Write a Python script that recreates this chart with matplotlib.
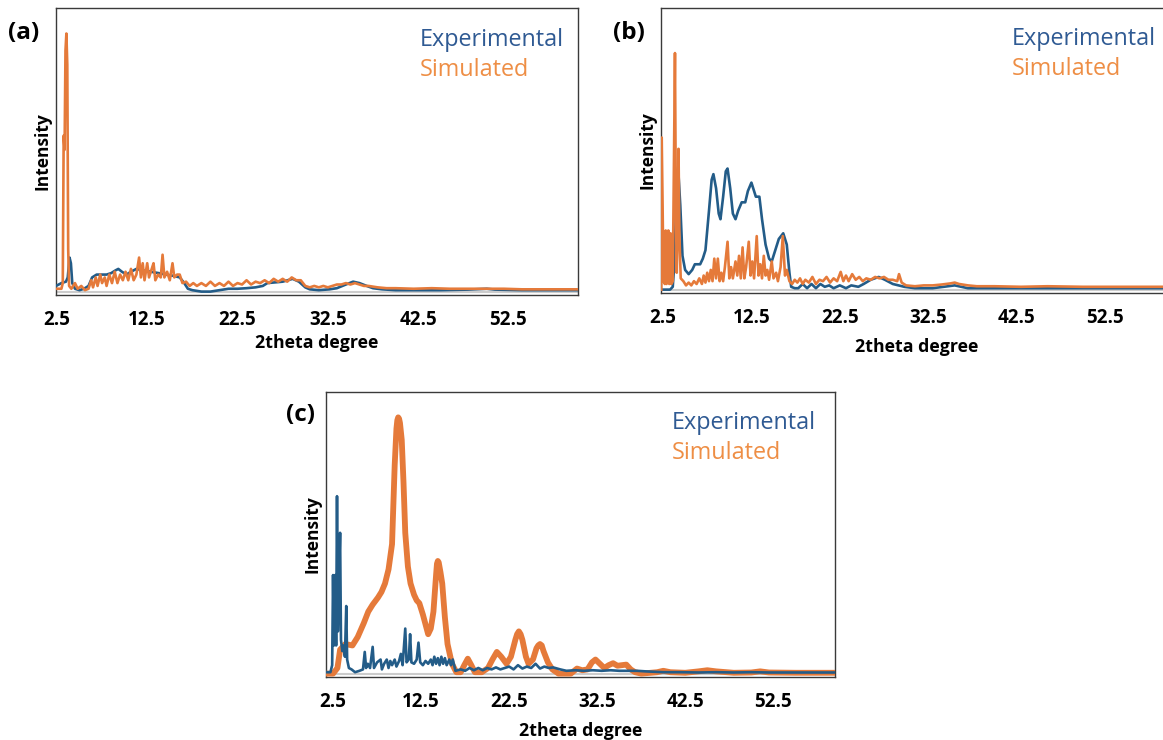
import numpy as np
import matplotlib
matplotlib.use("Agg")
import matplotlib.pyplot as plt

plt.rcParams['font.family'] = ['Open Sans', 'DejaVu Sans']

BLUE = '#235c88'
ORANGE = '#e57a3a'
TXT_BLUE = '#2f5a93'
TXT_ORANGE = '#ee8e45'

xticks = [2.5, 12.5, 22.5, 32.5, 42.5, 52.5]

# (2theta, relative intensity)
a_exp = [(2.4, 0.02), (3.0, 0.03), (3.5, 0.035), (3.7, 0.05), (3.9, 0.12), (4.05, 0.10), (4.2, 0.03),
         (4.5, 0.01), (5.0, 0.005), (5.5, 0.01), (6.0, 0.02), (6.4, 0.05), (6.9, 0.06), (7.5, 0.06),
         (8.0, 0.06), (8.5, 0.065), (9.0, 0.075), (9.3, 0.08), (9.7, 0.07), (10.2, 0.06), (10.7, 0.07),
         (11.3, 0.08), (12.0, 0.075), (12.9, 0.07), (13.8, 0.065), (14.6, 0.06), (15.5, 0.055),
         (16.1, 0.05), (16.6, 0.03), (17.0, 0.01), (17.5, 0.005), (18.5, 0.0), (19.5, 0.0),
         (20.5, 0.005), (21.5, 0.01), (22.5, 0.01), (23.5, 0.012), (24.5, 0.015), (25.3, 0.02),
         (25.8, 0.03), (26.5, 0.032), (27.5, 0.035), (28.6, 0.045), (29.3, 0.035), (30.0, 0.015),
         (30.5, 0.008), (31.5, 0.005), (32.7, 0.008), (33.5, 0.012), (34.5, 0.025), (35.3, 0.035),
         (36.0, 0.03), (36.8, 0.02), (37.5, 0.012), (38.5, 0.008), (40.0, 0.005), (42.0, 0.005),
         (45.0, 0.005), (48.0, 0.007), (50.1, 0.01), (51.0, 0.007), (54.0, 0.005), (57.0, 0.005),
         (60.2, 0.005)]

a_sim = [(2.5, 0.01), (3.0, 0.01), (3.15, 0.03), (3.25, 0.55), (3.35, 0.50), (3.45, 0.85),
         (3.55, 0.91), (3.65, 0.80), (3.75, 0.15), (3.85, 0.02), (4.1, 0.01), (4.5, 0.03), (4.8, 0.01),
         (5.2, 0.02), (5.6, 0.005), (6.0, 0.01), (6.3, 0.04), (6.5, 0.015), (6.8, 0.05), (7.0, 0.02),
         (7.3, 0.06), (7.5, 0.03), (7.8, 0.05), (8.0, 0.02), (8.3, 0.06), (8.6, 0.03), (8.9, 0.07),
         (9.2, 0.03), (9.5, 0.06), (9.8, 0.04), (10.1, 0.07), (10.4, 0.04), (10.7, 0.08), (11.0, 0.04),
         (11.3, 0.06), (11.6, 0.12), (11.8, 0.05), (12.0, 0.10), (12.2, 0.04), (12.5, 0.10),
         (12.7, 0.05), (13.0, 0.08), (13.2, 0.10), (13.4, 0.04), (13.7, 0.06), (14.0, 0.05),
         (14.2, 0.13), (14.4, 0.05), (14.7, 0.07), (15.0, 0.04), (15.3, 0.10), (15.5, 0.05),
         (15.8, 0.06), (16.1, 0.06), (16.4, 0.03), (16.8, 0.035), (17.2, 0.02), (17.6, 0.03),
         (18.0, 0.02), (18.5, 0.03), (19.0, 0.02), (19.5, 0.035), (20.0, 0.02), (20.5, 0.03),
         (21.0, 0.02), (21.5, 0.035), (22.0, 0.02), (22.5, 0.03), (23.0, 0.025), (23.5, 0.04),
         (24.0, 0.025), (24.5, 0.035), (25.0, 0.03), (25.5, 0.04), (26.0, 0.03), (26.5, 0.045),
         (27.0, 0.035), (27.5, 0.045), (28.0, 0.035), (28.5, 0.05), (29.0, 0.04), (29.5, 0.04),
         (30.0, 0.02), (30.5, 0.015), (31.0, 0.02), (31.5, 0.015), (32.0, 0.02), (32.5, 0.015),
         (33.0, 0.02), (33.5, 0.025), (34.0, 0.025), (34.5, 0.03), (35.0, 0.025), (35.5, 0.03),
         (36.0, 0.025), (36.5, 0.02), (37.0, 0.02), (38.0, 0.015), (39.0, 0.012), (40.0, 0.012),
         (42.0, 0.01), (44.0, 0.012), (46.0, 0.01), (48.0, 0.01), (50.0, 0.01), (52.0, 0.01),
         (54.0, 0.008), (56.0, 0.008), (58.0, 0.008), (60.2, 0.008)]

b_exp = [(2.3, 0.0), (3.3, 0.0), (3.6, 0.01), (3.8, 0.1), (4.0, 0.33), (4.25, 0.41), (4.45, 0.3),
         (4.7, 0.12), (5.0, 0.07), (5.4, 0.055), (5.8, 0.07), (6.1, 0.09), (6.7, 0.09), (7.0, 0.11),
         (7.3, 0.14), (7.7, 0.28), (8.0, 0.39), (8.2, 0.41), (8.5, 0.36), (8.8, 0.27), (9.0, 0.25),
         (9.3, 0.33), (9.6, 0.42), (9.8, 0.43), (10.1, 0.36), (10.4, 0.27), (10.7, 0.25), (11.0, 0.28),
         (11.4, 0.31), (11.8, 0.31), (12.1, 0.35), (12.5, 0.38), (12.8, 0.35), (13.0, 0.33),
         (13.4, 0.33), (13.7, 0.25), (14.1, 0.16), (14.5, 0.11), (14.8, 0.10), (15.2, 0.14),
         (15.6, 0.18), (16.1, 0.20), (16.5, 0.16), (16.8, 0.06), (17.0, 0.01), (17.4, 0.005),
         (17.8, 0.005), (18.3, 0.02), (18.8, 0.005), (19.3, 0.02), (19.8, 0.005), (20.3, 0.02),
         (20.8, 0.01), (21.3, 0.015), (21.8, 0.005), (22.5, 0.015), (23.2, 0.005), (23.8, 0.015),
         (24.6, 0.01), (25.2, 0.02), (26.0, 0.035), (26.9, 0.045), (27.6, 0.035), (28.5, 0.02),
         (29.8, 0.01), (31.0, 0.005), (33.0, 0.005), (35.5, 0.015), (37.0, 0.005), (40.0, 0.005),
         (45.0, 0.005), (50.0, 0.005), (55.0, 0.005), (60.5, 0.005)]

b_sim = [(2.3, 0.0), (2.35, 0.54), (2.45, 0.3), (2.55, 0.03), (2.7, 0.02), (2.8, 0.21), (2.9, 0.02),
         (3.0, 0.03), (3.1, 0.21), (3.2, 0.02), (3.35, 0.2), (3.45, 0.02), (3.6, 0.03), (3.75, 0.5),
         (3.85, 0.84), (3.95, 0.3), (4.05, 0.06), (4.15, 0.2), (4.25, 0.5), (4.35, 0.2), (4.5, 0.04),
         (4.8, 0.03), (5.1, 0.015), (5.4, 0.025), (5.7, 0.015), (6.0, 0.03), (6.3, 0.02), (6.6, 0.04),
         (6.9, 0.02), (7.1, 0.05), (7.3, 0.025), (7.5, 0.06), (7.7, 0.03), (7.9, 0.07), (8.1, 0.03),
         (8.3, 0.11), (8.5, 0.04), (8.7, 0.11), (8.9, 0.03), (9.1, 0.06), (9.3, 0.03), (9.5, 0.08),
         (9.8, 0.17), (10.0, 0.04), (10.2, 0.08), (10.4, 0.04), (10.7, 0.1), (10.9, 0.05),
         (11.1, 0.12), (11.3, 0.04), (11.5, 0.15), (11.7, 0.04), (11.9, 0.08), (12.2, 0.17),
         (12.4, 0.05), (12.6, 0.1), (12.8, 0.04), (13.1, 0.19), (13.3, 0.05), (13.5, 0.09),
         (13.7, 0.04), (13.9, 0.12), (14.1, 0.05), (14.3, 0.07), (14.5, 0.035), (14.8, 0.1),
         (15.0, 0.04), (15.3, 0.06), (15.5, 0.03), (15.8, 0.08), (16.05, 0.19), (16.3, 0.05),
         (16.5, 0.07), (16.8, 0.03), (17.1, 0.02), (17.4, 0.035), (17.7, 0.025), (18.0, 0.04),
         (18.3, 0.02), (18.6, 0.035), (19.0, 0.025), (19.4, 0.045), (19.8, 0.02), (20.2, 0.035),
         (20.6, 0.03), (21.0, 0.045), (21.4, 0.025), (21.8, 0.04), (22.2, 0.03), (22.6, 0.063),
         (22.9, 0.03), (23.2, 0.05), (23.5, 0.03), (23.9, 0.055), (24.3, 0.035), (24.7, 0.045),
         (25.1, 0.03), (25.5, 0.04), (26.0, 0.035), (26.5, 0.045), (27.0, 0.04), (27.5, 0.045),
         (28.0, 0.035), (28.5, 0.035), (29.0, 0.03), (29.2, 0.055), (29.5, 0.025), (30.0, 0.015),
         (31.0, 0.012), (32.0, 0.015), (33.0, 0.015), (34.0, 0.018), (35.0, 0.022), (35.5, 0.025),
         (36.0, 0.02), (37.0, 0.015), (38.0, 0.012), (40.0, 0.012), (43.0, 0.01), (46.0, 0.012),
         (50.0, 0.01), (55.0, 0.01), (60.5, 0.01)]

c_exp = [(1.7, 0.005), (2.2, 0.005), (2.4, 0.03), (2.5, 0.35), (2.6, 0.1), (2.75, 0.35), (2.85, 0.1),
         (2.95, 0.63), (3.05, 0.15), (3.15, 0.3), (3.3, 0.50), (3.4, 0.12), (3.55, 0.08), (3.7, 0.1),
         (3.85, 0.06), (4.0, 0.24), (4.1, 0.05), (4.3, 0.02), (4.6, 0.015), (5.0, 0.005), (5.5, 0.01),
         (5.9, 0.015), (6.1, 0.077), (6.25, 0.02), (6.45, 0.035), (6.7, 0.02), (7.0, 0.095),
         (7.15, 0.02), (7.5, 0.04), (7.9, 0.05), (8.05, 0.015), (8.3, 0.035), (8.6, 0.05), (8.8, 0.02),
         (9.0, 0.045), (9.2, 0.03), (9.5, 0.05), (9.7, 0.025), (10.0, 0.045), (10.2, 0.07),
         (10.4, 0.03), (10.7, 0.16), (10.85, 0.04), (11.1, 0.05), (11.25, 0.14), (11.4, 0.04),
         (11.7, 0.035), (12.0, 0.05), (12.2, 0.11), (12.4, 0.04), (12.7, 0.03), (13.0, 0.045),
         (13.3, 0.035), (13.6, 0.05), (13.8, 0.03), (14.0, 0.06), (14.2, 0.035), (14.4, 0.055),
         (14.6, 0.03), (14.8, 0.06), (15.0, 0.035), (15.2, 0.055), (15.4, 0.03), (15.7, 0.05),
         (15.9, 0.03), (16.1, 0.05), (16.4, 0.01), (17.0, 0.015), (17.5, 0.01), (18.0, 0.02),
         (18.5, 0.012), (19.0, 0.02), (19.5, 0.012), (20.0, 0.02), (20.5, 0.015), (21.0, 0.022),
         (21.5, 0.015), (22.0, 0.02), (22.5, 0.025), (23.0, 0.015), (23.5, 0.03), (24.0, 0.018),
         (24.5, 0.025), (25.0, 0.02), (25.5, 0.035), (26.0, 0.018), (26.5, 0.025), (27.0, 0.02),
         (27.5, 0.022), (28.3, 0.015), (29.0, 0.01), (30.0, 0.012), (31.0, 0.01), (32.0, 0.012),
         (33.0, 0.01), (34.0, 0.012), (35.0, 0.01), (36.0, 0.01), (37.0, 0.01), (38.0, 0.008),
         (40.0, 0.005), (42.0, 0.005), (44.0, 0.004), (46.0, 0.005), (48.0, 0.004), (50.0, 0.005),
         (52.0, 0.004), (55.0, 0.004), (59.5, 0.004)]

c_sim = [(1.7, 0.0), (2.5, 0.0), (3.0, 0.02), (3.3, 0.085), (3.9, 0.105), (4.7, 0.10), (5.3, 0.13),
         (6.0, 0.18), (6.5, 0.22), (7.0, 0.245), (7.6, 0.27), (8.0, 0.29), (8.4, 0.32), (8.8, 0.37),
         (9.2, 0.46), (9.5, 0.74), (9.7, 0.87), (9.8, 0.90), (9.9, 0.91), (10.0, 0.905), (10.1, 0.89),
         (10.3, 0.83), (10.5, 0.68), (10.7, 0.50), (11.0, 0.38), (11.3, 0.32), (11.7, 0.28),
         (12.0, 0.26), (12.3, 0.25), (12.7, 0.21), (13.0, 0.175), (13.3, 0.14), (13.6, 0.16),
         (13.9, 0.22), (14.2, 0.35), (14.3, 0.39), (14.4, 0.40), (14.5, 0.395), (14.7, 0.36),
         (14.9, 0.32), (15.2, 0.2), (15.5, 0.105), (16.0, 0.035), (16.5, 0.005), (17.0, 0.005),
         (17.4, 0.03), (17.8, 0.053), (18.2, 0.03), (18.6, 0.005), (19.4, 0.005), (20.1, 0.02),
         (20.6, 0.05), (21.1, 0.077), (21.6, 0.06), (22.2, 0.035), (22.7, 0.06), (23.2, 0.12),
         (23.4, 0.14), (23.6, 0.15), (23.8, 0.14), (24.0, 0.12), (24.4, 0.06), (24.7, 0.035),
         (25.2, 0.05), (25.6, 0.09), (25.8, 0.10), (26.0, 0.105), (26.2, 0.10), (26.4, 0.08),
         (26.9, 0.04), (27.4, 0.015), (28.1, 0.0), (29.5, 0.0), (30.2, 0.018), (30.8, 0.012),
         (31.4, 0.015), (31.9, 0.04), (32.3, 0.05), (32.8, 0.035), (33.3, 0.02), (33.8, 0.03),
         (34.3, 0.037), (34.8, 0.028), (35.3, 0.03), (35.8, 0.032), (36.3, 0.015), (36.8, 0.005),
         (37.5, 0.0), (39.3, 0.005), (40.0, 0.01), (40.8, 0.005), (42.5, 0.003), (44.0, 0.008),
         (45.0, 0.012), (46.0, 0.008), (48.0, 0.003), (50.0, 0.004), (51.0, 0.008), (52.0, 0.004),
         (55.0, 0.003), (59.5, 0.003)]


def draw_panel(ax, exp, sim, xlim, exp_on_top=False, sim_lw=1.9, label_pad=8, leg_x=0.695):
    ex, ey = np.array(exp).T
    sx, sy = np.array(sim).T
    ax.axhline(0, color='#cccccc', lw=1.5, zorder=1)
    z_exp, z_sim = (4, 3) if exp_on_top else (3, 4)
    ax.plot(ex, ey, color=BLUE, lw=1.9, zorder=z_exp, solid_joinstyle='round')
    ax.plot(sx, sy, color=ORANGE, lw=sim_lw, zorder=z_sim, solid_joinstyle='round')
    ax.set_xlim(*xlim)
    ax.set_ylim(-0.012, 1.0)
    ax.set_xticks(xticks)
    ax.set_xticklabels([f'{t}' for t in xticks], fontsize=13.5, fontweight='bold')
    ax.tick_params(axis='x', length=0, pad=11)
    ax.set_yticks([])
    for s in ax.spines.values():
        s.set_color('#3a3a3a')
        s.set_linewidth(1.0)
    ax.set_xlabel('2theta degree', fontsize=12.8, fontweight='bold', labelpad=label_pad)
    ax.set_ylabel('Intensity', fontsize=12.5, fontweight='bold', labelpad=3)
    ax.text(leg_x, 0.89, 'Experimental', transform=ax.transAxes, color=TXT_BLUE,
            fontsize=16.8, va='center', ha='left')
    ax.text(leg_x, 0.785, 'Simulated', transform=ax.transAxes, color=TXT_ORANGE,
            fontsize=16.8, va='center', ha='left')


fig = plt.figure(figsize=(11.63, 7.40), dpi=100)

ax_a = fig.add_axes([56 / 1163, 1 - 295 / 740, 522 / 1163, 287 / 740])
draw_panel(ax_a, a_exp, a_sim, (2.4, 60.2), label_pad=3, leg_x=0.697)

ax_b = fig.add_axes([661 / 1163, 1 - 293 / 740, 512 / 1163, 285 / 740])
draw_panel(ax_b, b_exp, b_sim, (2.27, 60.2), label_pad=7, leg_x=0.686)

ax_c = fig.add_axes([326 / 1163, 1 - 677 / 740, 509 / 1163, 285 / 740])
draw_panel(ax_c, c_exp, c_sim, (1.7, 59.5), exp_on_top=True, sim_lw=4.2, label_pad=7, leg_x=0.68)

fig.text(8 / 1163, 1 - 33 / 740, '(a)', fontsize=17.5, fontweight='bold', va='center', ha='left')
fig.text(613 / 1163, 1 - 33 / 740, '(b)', fontsize=17.5, fontweight='bold', va='center', ha='left')
fig.text(286 / 1163, 1 - 415 / 740, '(c)', fontsize=17.5, fontweight='bold', va='center', ha='left')

fig.savefig('out.png', dpi=100)
